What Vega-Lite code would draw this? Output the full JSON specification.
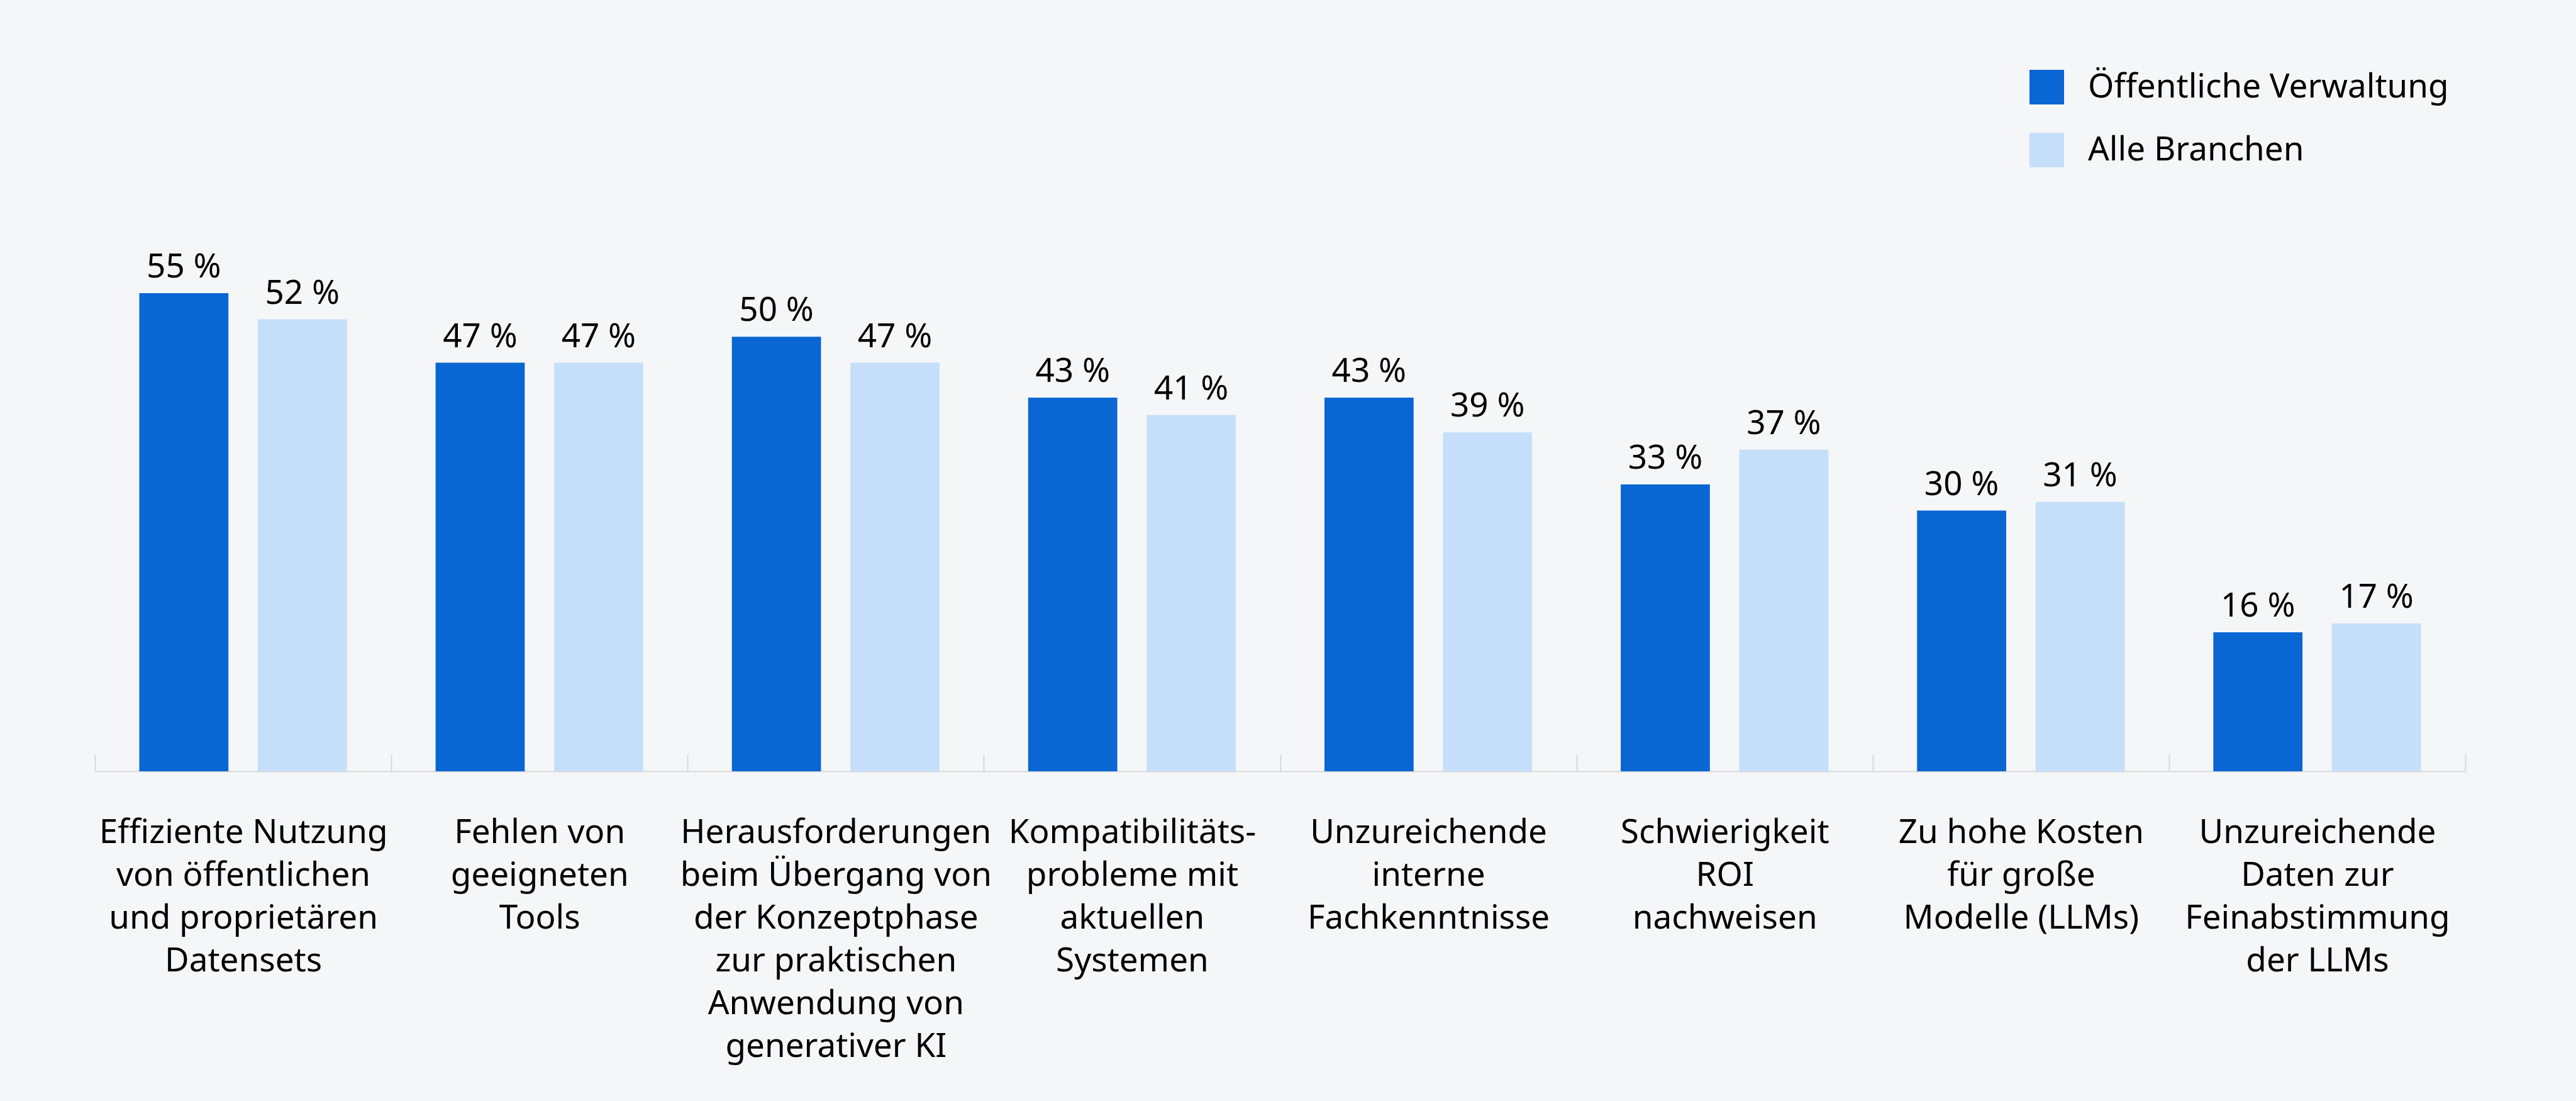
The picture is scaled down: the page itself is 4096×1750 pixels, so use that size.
{
  "$schema": "https://vega.github.io/schema/vega-lite/v6.json",
  "autosize": {"type": "none"},
  "width": 3769,
  "height": 829,
  "padding": {"left": 151, "top": 397, "right": 176, "bottom": 524},
  "background": "#F5F6F8",
  "config": {
    "view": {"stroke": null},
    "font": "Noto Sans",
    "text": {"font": "Noto Sans"}
  },
  "data": {
    "values": [
      {"category": "Effiziente Nutzung|von öffentlichen|und proprietären|Datensets", "series": "Öffentliche Verwaltung", "value": 55},
      {"category": "Effiziente Nutzung|von öffentlichen|und proprietären|Datensets", "series": "Alle Branchen", "value": 52},
      {"category": "Fehlen von|geeigneten|Tools", "series": "Öffentliche Verwaltung", "value": 47},
      {"category": "Fehlen von|geeigneten|Tools", "series": "Alle Branchen", "value": 47},
      {"category": "Herausforderungen|beim Übergang von|der Konzeptphase|zur praktischen|Anwendung von|generativer KI", "series": "Öffentliche Verwaltung", "value": 50},
      {"category": "Herausforderungen|beim Übergang von|der Konzeptphase|zur praktischen|Anwendung von|generativer KI", "series": "Alle Branchen", "value": 47},
      {"category": "Kompatibilitäts-|probleme mit|aktuellen|Systemen", "series": "Öffentliche Verwaltung", "value": 43},
      {"category": "Kompatibilitäts-|probleme mit|aktuellen|Systemen", "series": "Alle Branchen", "value": 41},
      {"category": "Unzureichende|interne|Fachkenntnisse", "series": "Öffentliche Verwaltung", "value": 43},
      {"category": "Unzureichende|interne|Fachkenntnisse", "series": "Alle Branchen", "value": 39},
      {"category": "Schwierigkeit|ROI|nachweisen", "series": "Öffentliche Verwaltung", "value": 33},
      {"category": "Schwierigkeit|ROI|nachweisen", "series": "Alle Branchen", "value": 37},
      {"category": "Zu hohe Kosten|für große|Modelle (LLMs)", "series": "Öffentliche Verwaltung", "value": 30},
      {"category": "Zu hohe Kosten|für große|Modelle (LLMs)", "series": "Alle Branchen", "value": 31},
      {"category": "Unzureichende|Daten zur|Feinabstimmung|der LLMs", "series": "Öffentliche Verwaltung", "value": 16},
      {"category": "Unzureichende|Daten zur|Feinabstimmung|der LLMs", "series": "Alle Branchen", "value": 17}
    ]
  },
  "transform": [{"calculate": "datum.value + ' %'", "as": "label"}],
  "encoding": {
    "x": {
      "field": "category",
      "type": "nominal",
      "sort": null,
      "title": null,
      "scale": {"paddingInner": 0, "paddingOuter": 0},
      "axis": {
        "labelAngle": 0,
        "labelExpr": "split(datum.label, '|')",
        "labelFont": "Noto Sans",
        "labelFontSize": 53,
        "labelLineHeight": 68,
        "labelColor": "#000000",
        "labelBaseline": "alphabetic",
        "labelPadding": 140,
        "labelLimit": 0,
        "domain": true,
        "domainColor": "#D8D9DB",
        "domainWidth": 2,
        "ticks": true,
        "tickBand": "extent",
        "tickSize": -27,
        "tickColor": "#D8D9DB",
        "tickWidth": 2,
        "grid": false
      }
    },
    "xOffset": {
      "field": "series",
      "type": "nominal",
      "sort": ["Öffentliche Verwaltung", "Alle Branchen"],
      "scale": {"paddingInner": 0.248, "paddingOuter": 0.374}
    },
    "y": {
      "field": "value",
      "type": "quantitative",
      "scale": {"domain": [0, 60]},
      "axis": null
    }
  },
  "layer": [
    {
      "mark": {"type": "bar"},
      "encoding": {
        "color": {
          "field": "series",
          "type": "nominal",
          "scale": {
            "domain": ["Öffentliche Verwaltung", "Alle Branchen"],
            "range": ["#0A66D3", "#C5DFFA"]
          },
          "legend": {
            "orient": "none",
            "legendX": 3076,
            "legendY": -286,
            "title": null,
            "symbolType": "square",
            "symbolSize": 3025,
            "symbolStrokeWidth": 0,
            "labelFont": "Noto Sans",
            "labelFontSize": 53,
            "labelColor": "#000000",
            "labelOffset": 38,
            "labelLimit": 0,
            "rowPadding": 45,
            "padding": 0
          }
        }
      }
    },
    {
      "mark": {"type": "text", "baseline": "alphabetic", "dy": -25, "fontSize": 53, "font": "Noto Sans", "color": "#000000"},
      "encoding": {"text": {"field": "label"}}
    }
  ]
}
